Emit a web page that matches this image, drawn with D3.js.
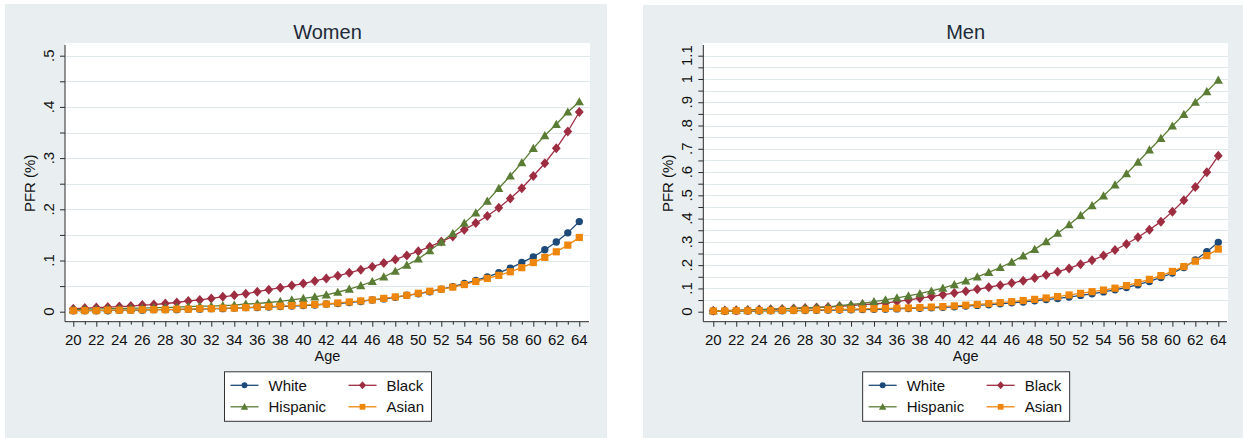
<!DOCTYPE html>
<html>
<head>
<meta charset="utf-8">
<script src="https://cdn.jsdelivr.net/npm/d3@7"></script>
<style>
  html, body { margin: 0; padding: 0; background: #ffffff; }
  svg { display: block; font-family: "Liberation Sans", Arial, Helvetica, sans-serif; }
</style>
</head>
<body>
<svg id="chart" width="1243" height="438"></svg>
<script>
// Age categories on the x axis
const ages = [20,21,22,23,24,25,26,27,28,29,30,31,32,33,34,35,36,37,38,39,40,41,42,
              43,44,45,46,47,48,49,50,51,52,53,54,55,56,57,58,59,60,61,62,63,64];
const xTickLabels = ["20","22","24","26","28","30","32","34","36","38","40","42",
                     "44","46","48","50","52","54","56","58","60","62","64"];

// Women, PFR (%) by age
const womenWhite = [0.002,0.002,0.002,0.002,0.003,0.003,0.003,0.004,0.004,0.004,0.005,0.005,0.006,
  0.006,0.007,0.008,0.008,0.009,0.010,0.011,0.012,0.013,0.015,0.016,0.018,0.020,0.023,0.025,0.028,
  0.032,0.035,0.039,0.044,0.049,0.055,0.061,0.068,0.076,0.085,0.096,0.107,0.121,0.136,0.154,0.176];
const womenBlack = [0.006,0.007,0.008,0.009,0.010,0.011,0.013,0.014,0.016,0.018,0.021,0.023,0.026,
  0.029,0.032,0.035,0.039,0.043,0.047,0.051,0.055,0.060,0.065,0.070,0.076,0.082,0.088,0.095,0.102,
  0.110,0.118,0.127,0.137,0.147,0.160,0.173,0.187,0.203,0.221,0.241,0.265,0.290,0.319,0.352,0.390];
const womenHispanic = [0.004,0.005,0.005,0.006,0.006,0.007,0.007,0.008,0.008,0.009,0.010,0.011,0.011,
  0.012,0.013,0.015,0.016,0.018,0.020,0.023,0.026,0.029,0.033,0.038,0.044,0.051,0.059,0.068,0.079,
  0.091,0.103,0.119,0.136,0.153,0.173,0.193,0.216,0.241,0.265,0.291,0.319,0.344,0.366,0.390,0.410];
const womenAsian = [0.002,0.002,0.002,0.003,0.003,0.003,0.004,0.004,0.004,0.005,0.005,0.006,0.006,
  0.007,0.007,0.008,0.009,0.010,0.011,0.012,0.013,0.014,0.015,0.017,0.019,0.021,0.023,0.026,0.029,
  0.032,0.036,0.040,0.044,0.048,0.053,0.059,0.065,0.071,0.078,0.086,0.096,0.106,0.117,0.130,0.145];

// Men, PFR (%) by age
const menWhite = [0.002,0.002,0.003,0.003,0.003,0.004,0.004,0.005,0.005,0.006,0.007,0.007,0.008,
  0.009,0.010,0.011,0.012,0.014,0.015,0.017,0.019,0.021,0.024,0.027,0.030,0.034,0.038,0.042,0.047,
  0.052,0.057,0.063,0.070,0.077,0.085,0.094,0.104,0.116,0.130,0.147,0.166,0.190,0.222,0.258,0.298];
const menBlack = [0.004,0.005,0.006,0.007,0.009,0.010,0.012,0.014,0.016,0.018,0.020,0.023,0.026,
  0.030,0.033,0.037,0.044,0.050,0.058,0.065,0.073,0.080,0.088,0.096,0.105,0.114,0.123,0.133,0.145,
  0.158,0.172,0.186,0.204,0.221,0.241,0.265,0.291,0.320,0.352,0.387,0.430,0.479,0.536,0.599,0.670];
const menHispanic = [0.004,0.005,0.006,0.008,0.009,0.011,0.012,0.014,0.016,0.018,0.021,0.026,0.031,
  0.036,0.043,0.051,0.059,0.068,0.078,0.089,0.101,0.116,0.132,0.150,0.169,0.190,0.213,0.240,0.268,
  0.301,0.337,0.374,0.414,0.456,0.498,0.545,0.593,0.643,0.695,0.745,0.798,0.848,0.900,0.946,0.995];
const menAsian = [0.003,0.003,0.004,0.004,0.005,0.005,0.006,0.006,0.007,0.008,0.009,0.010,0.011,
  0.012,0.013,0.014,0.015,0.016,0.018,0.020,0.022,0.025,0.028,0.031,0.035,0.039,0.043,0.048,0.053,
  0.059,0.065,0.072,0.079,0.086,0.093,0.101,0.112,0.125,0.139,0.155,0.173,0.194,0.217,0.241,0.269];

// Y axis ticks and labels
const womenYTicks = [0, 0.1, 0.2, 0.3, 0.4, 0.5];
const womenYLabels = ["0", ".1", ".2", ".3", ".4", ".5"];
const menYTicks = [0, 0.1, 0.2, 0.3, 0.4, 0.5, 0.6, 0.7, 0.8, 0.9, 1.0, 1.1];
const menYLabels = ["0", ".1", ".2", ".3", ".4", ".5", ".6", ".7", ".8", ".9", "1", "1.1"];

const seriesNames = ["White", "Black", "Hispanic", "Asian"];
const seriesColors = { White: "#1d4a78", Black: "#9e2d42", Hispanic: "#5b7c34", Asian: "#ee860c" };

// Marker shapes
const diamondShape = { draw(ctx, s) { ctx.moveTo(0, -s); ctx.lineTo(s * 0.88, 0); ctx.lineTo(0, s); ctx.lineTo(-s * 0.88, 0); ctx.closePath(); } };
const triangleShape = { draw(ctx, s) { ctx.moveTo(0, -s); ctx.lineTo(s * 1.0, s * 0.78); ctx.lineTo(-s * 1.0, s * 0.78); ctx.closePath(); } };
const circleShape = { draw(ctx, s) { ctx.moveTo(s, 0); ctx.arc(0, 0, s, 0, 2 * Math.PI); ctx.closePath(); } };
const squareShape = { draw(ctx, s) { ctx.rect(-s, -s, 2 * s, 2 * s); } };
const markerOf = {
  White: { type: circleShape, size: 3.7 },
  Black: { type: diamondShape, size: 5.0 },
  Hispanic: { type: triangleShape, size: 4.6 },
  Asian: { type: squareShape, size: 3.6 }
};

const panels = [
  { title: "Women", bg: [5, 4, 602, 434], plot: [65, 43, 590, 321.7], xr: [73.3, 579.3],
    yTicks: womenYTicks, yLabels: womenYLabels, yMax: 0.5,
    data: { White: womenWhite, Black: womenBlack, Hispanic: womenHispanic, Asian: womenAsian } },
  { title: "Men", bg: [643, 5, 600, 433], plot: [703.3, 43, 1228, 321.7], xr: [713.3, 1218.3],
    yTicks: menYTicks, yLabels: menYLabels, yMax: 1.1,
    data: { White: menWhite, Black: menBlack, Hispanic: menHispanic, Asian: menAsian } }
];

const svg = d3.select("#chart");
const textColor = "#111111";
const axisColor = "#2a2a2a";

panels.forEach(p => {
  const g = svg.append("g");
  const [px0, py0, px1, py1] = p.plot;

  // panel background
  g.append("rect").attr("x", p.bg[0]).attr("y", p.bg[1]).attr("width", p.bg[2]).attr("height", p.bg[3])
    .attr("fill", "#e9eff1");
  // plot region
  g.append("rect").attr("x", px0).attr("y", py0).attr("width", px1 - px0).attr("height", py1 - py0)
    .attr("fill", "#ffffff");

  const x = d3.scaleLinear().domain([20, 64]).range(p.xr);
  const y = d3.scaleLinear().domain([0, p.yMax]).range([311.7, 55.7]);

  // grid lines every half step
  const halfSteps = d3.range(1, Math.round(p.yMax / 0.05) + 1).map(i => i * 0.05);
  g.append("g").selectAll("line").data(halfSteps).join("line")
    .attr("x1", px0 + 1).attr("x2", px1)
    .attr("y1", d => Math.round(y(d)) + 0.5).attr("y2", d => Math.round(y(d)) + 0.5)
    .attr("stroke", "#e1e8ec").attr("stroke-width", 1);

  // y axis
  const yAxisG = g.append("g").attr("transform", `translate(${px0},0)`);
  yAxisG.call(d3.axisLeft(y).tickValues(halfSteps.concat([0])).tickSize(5).tickFormat(""));
  yAxisG.select(".domain").attr("d", `M0,${py0 + 2}V${py1}`).attr("stroke", axisColor);
  yAxisG.selectAll(".tick line").attr("stroke", axisColor);
  g.append("g").selectAll("text").data(p.yTicks).join("text")
    .attr("transform", (d) => `translate(${px0 - 11},${y(d)}) rotate(-90)`)
    .attr("text-anchor", "middle")
    .attr("font-size", 15).attr("fill", textColor)
    .text((d, i) => p.yLabels[i]);

  // x axis
  const xAxisG = g.append("g").attr("transform", `translate(0,${py1})`);
  xAxisG.call(d3.axisBottom(x).tickValues(ages).tickSize(5).tickFormat(""));
  xAxisG.select(".domain").attr("d", `M${px0},0H${px1 - 1}`).attr("stroke", axisColor);
  xAxisG.selectAll(".tick line").attr("stroke", axisColor)
    .attr("y2", d => (d % 2 === 0 ? 5 : 3));
  g.append("g").selectAll("text").data(xTickLabels).join("text")
    .attr("x", d => x(+d)).attr("y", 344.5)
    .attr("text-anchor", "middle").attr("font-size", 15).attr("fill", textColor)
    .text(d => d);

  // axis titles and panel title
  const cx = (px0 + px1) / 2;
  g.append("text").attr("x", cx).attr("y", 360.5).attr("text-anchor", "middle")
    .attr("font-size", 14.5).attr("fill", textColor).text("Age");
  g.append("text").attr("transform", `translate(${px0 - 30},${(py0 + py1) / 2 + 1}) rotate(-90)`)
    .attr("text-anchor", "middle").attr("font-size", 15).attr("fill", textColor).text("PFR (%)");
  g.append("text").attr("x", cx).attr("y", 39.3).attr("text-anchor", "middle")
    .attr("font-size", 20).attr("fill", "#1e2a38").text(p.title);

  // series
  seriesNames.forEach(name => {
    const vals = p.data[name];
    const pts = ages.map((a, i) => [a, vals[i]]);
    const sg = g.append("g");
    sg.append("path").datum(pts)
      .attr("d", d3.line().x(d => x(d[0])).y(d => y(d[1])))
      .attr("fill", "none").attr("stroke", seriesColors[name]).attr("stroke-width", 1.3);
    const m = markerOf[name];
    sg.selectAll("path.mk").data(pts).join("path").attr("class", "mk")
      .attr("transform", d => `translate(${x(d[0])},${y(d[1])})`)
      .attr("d", d3.symbol(m.type, m.size)())
      .attr("fill", seriesColors[name]);
  });

  // legend
  const lw = 207, lh = 49.5;
  const lx = cx - lw / 2, ly = 371.3;
  const lg = g.append("g");
  lg.append("rect").attr("x", lx + 0.5).attr("y", ly + 0.5).attr("width", lw).attr("height", lh)
    .attr("fill", "#ffffff").attr("stroke", "#333333").attr("stroke-width", 1);
  const cols = [6.5, 124.5];
  const rows = [14, 35.5];
  seriesNames.forEach((name, i) => {
    const kx = lx + cols[i % 2], ky = ly + rows[Math.floor(i / 2)];
    lg.append("line").attr("x1", kx).attr("x2", kx + 28).attr("y1", ky).attr("y2", ky)
      .attr("stroke", seriesColors[name]).attr("stroke-width", 1.3);
    const m = markerOf[name];
    lg.append("path").attr("transform", `translate(${kx + 14},${ky})`)
      .attr("d", d3.symbol(m.type, m.size * 0.8)()).attr("fill", seriesColors[name]);
    lg.append("text").attr("x", kx + 38).attr("y", ky + 5.5)
      .attr("font-size", 15).attr("fill", textColor).text(name);
  });
});
</script>
</body>
</html>
